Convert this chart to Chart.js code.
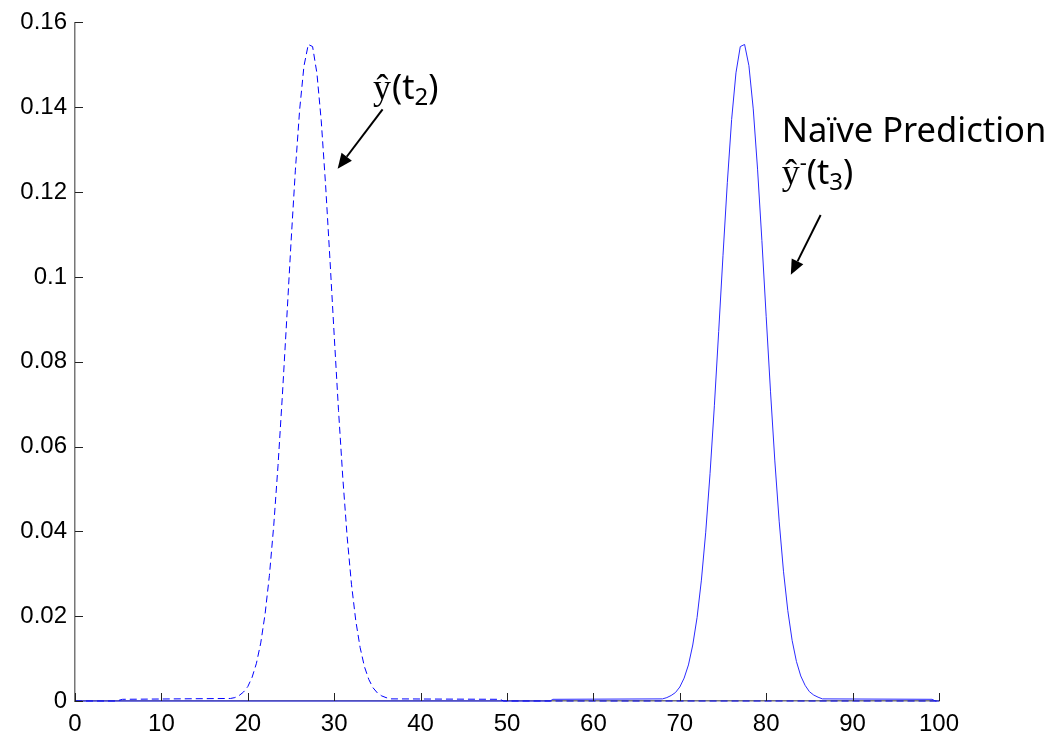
<!DOCTYPE html>
<html>
<head>
<meta charset="utf-8">
<script src="https://cdn.jsdelivr.net/npm/chart.js@4/dist/chart.umd.min.js"></script>
<style>
  html, body { margin: 0; padding: 0; background: #fff; }
  #plot { display: block; }
</style>
</head>
<body>
<canvas id="plot" width="1060" height="734"></canvas>
<script>
// estimate y(t2) – dashed curve
const xPred = [0, 4.8, 5.5,
  18, 18.5, 19, 19.5, 20, 20.5, 21, 21.5, 22, 22.5, 23, 23.5, 24, 24.5, 25, 25.5, 26, 26.5,
  27, 27.5, 28, 28.5, 29, 29.5, 30, 30.5, 31, 31.5, 32, 32.5, 33, 33.5, 34, 34.5, 35, 35.5, 36,
  36.5, 49.2, 49.6, 100];
const yPred = [0, 0, 0.0004,
  0.0006, 0.0008, 0.0013, 0.0021, 0.0034, 0.0056, 0.0089, 0.0137, 0.0205, 0.0296, 0.0413, 0.0556, 0.0720, 0.0898, 0.1080, 0.1250, 0.1394, 0.1497,
  0.1548, 0.1543, 0.1480, 0.1368, 0.1218, 0.1044, 0.0862, 0.0685, 0.0525, 0.0387, 0.0275, 0.0189, 0.0126, 0.0081, 0.0051, 0.0031, 0.0019, 0.0012, 0.0008,
  0.0005, 0.0004, 0, 0];

// naive prediction y-(t3) – solid curve
const xNaive = [0, 55, 55.3,
  68, 68.5, 69, 69.5, 70, 70.5, 71, 71.5, 72, 72.5, 73, 73.5, 74, 74.5, 75, 75.5, 76, 76.5,
  77, 77.5, 78, 78.5, 79, 79.5, 80, 80.5, 81, 81.5, 82, 82.5, 83, 83.5, 84, 84.5, 85, 85.5, 86, 86.5,
  99.2, 99.6, 100];
const yNaive = [0, 0, 0.0004,
  0.0005, 0.0008, 0.0013, 0.0020, 0.0033, 0.0054, 0.0085, 0.0132, 0.0197, 0.0285, 0.0398, 0.0536, 0.0696, 0.0871, 0.1051, 0.1222, 0.1371, 0.1481,
  0.1543, 0.1548, 0.1498, 0.1396, 0.1254, 0.1086, 0.0906, 0.0729, 0.0566, 0.0424, 0.0306, 0.0213, 0.0143, 0.0093, 0.0059, 0.0037, 0.0022, 0.0014, 0.0009, 0.0005,
  0.0004, 0, 0];

const xRange = [0, 100], xStep = 10;
const yRange = [0, 0.16], yStep = 0.02;

// annotation anchors, in data units
const note1At = [34.5, 0.142];
const arrow1 = [[35.6, 0.1395], [30.4, 0.1255]];
const note2At = [81.8, 0.1319];
const note3At = [81.8, 0.1219];
const arrow2 = [[86.3, 0.1146], [82.85, 0.1005]];

const SANS = '"Noto Sans", "Open Sans", sans-serif';
const SERIF = '"Liberation Serif", "DejaVu Serif", serif';
const TICK_FONT = '"Liberation Sans", Arial, sans-serif';

const zip = (xs, ys) => xs.map((x, i) => ({ x, y: ys[i] }));

// draws a run of text pieces with their own fonts and offsets
function drawRuns(ctx, x, y, runs) {
  runs.forEach(r => {
    ctx.font = r.font;
    ctx.fillText(r.text, x, y + (r.dy || 0));
    x += ctx.measureText(r.text).width + (r.gap || 0);
  });
}

function drawArrow(ctx, x0, y0, x1, y1) {
  const ang = Math.atan2(y1 - y0, x1 - x0), head = 15, half = 6.5;
  const bx = x1 - head * Math.cos(ang), by = y1 - head * Math.sin(ang);
  ctx.lineWidth = 2;
  ctx.beginPath();
  ctx.moveTo(x0, y0);
  ctx.lineTo(bx, by);
  ctx.stroke();
  ctx.beginPath();
  ctx.moveTo(x1, y1);
  ctx.lineTo(bx + half * Math.sin(ang), by - half * Math.cos(ang));
  ctx.lineTo(bx - half * Math.sin(ang), by + half * Math.cos(ang));
  ctx.closePath();
  ctx.fill();
}

// inward tick marks plus the text labels and arrows
const overlay = {
  id: 'overlay',
  afterDraw(chart) {
    const { ctx, scales: { x, y } } = chart;
    const px = v => x.getPixelForValue(v), py = v => y.getPixelForValue(v);
    ctx.save();
    ctx.strokeStyle = '#222';
    ctx.lineWidth = 1;
    ctx.beginPath();
    for (let v = xRange[0]; v <= xRange[1] + 1e-9; v += xStep) {
      const p = Math.round(px(v)) + 0.5;
      ctx.moveTo(p, y.bottom);
      ctx.lineTo(p, y.bottom - 8);
    }
    for (let i = 0; i * yStep <= yRange[1] + 1e-9; i++) {
      const p = Math.round(py(i * yStep)) + 0.5;
      ctx.moveTo(x.left, p);
      ctx.lineTo(x.left + 8, p);
    }
    ctx.stroke();

    ctx.fillStyle = '#000';
    ctx.strokeStyle = '#000';
    ctx.textBaseline = 'alphabetic';
    ctx.textAlign = 'left';
    drawRuns(ctx, px(note1At[0]), py(note1At[1]), [
      { text: 'ŷ', font: '36px ' + SERIF, gap: 1 },
      { text: '(t', font: '34px ' + SANS },
      { text: '2', font: '24px ' + SANS, dy: 6 },
      { text: ')', font: '34px ' + SANS }
    ]);
    drawRuns(ctx, px(note2At[0]), py(note2At[1]), [
      { text: 'Naïve Prediction', font: '34.5px ' + SANS }
    ]);
    drawRuns(ctx, px(note3At[0]), py(note3At[1]), [
      { text: 'ŷ', font: '36px ' + SERIF },
      { text: '-', font: '22px ' + SANS, dy: -14 },
      { text: '(t', font: '34px ' + SANS },
      { text: '3', font: '24px ' + SANS, dy: 6 },
      { text: ')', font: '34px ' + SANS }
    ]);
    drawArrow(ctx, px(arrow1[0][0]), py(arrow1[0][1]), px(arrow1[1][0]), py(arrow1[1][1]));
    drawArrow(ctx, px(arrow2[0][0]), py(arrow2[0][1]), px(arrow2[1][0]), py(arrow2[1][1]));
    ctx.restore();
  }
};

new Chart(document.getElementById('plot'), {
  type: 'line',
  data: {
    datasets: [
      { label: 'y(t2)', data: zip(xPred, yPred), borderColor: '#0000ff', borderWidth: 1,
        borderDash: [7, 4], pointRadius: 0, tension: 0, fill: false, clip: false },
      { label: 'Naive Prediction', data: zip(xNaive, yNaive), borderColor: '#2b2bff', borderWidth: 1,
        pointRadius: 0, tension: 0, fill: false, clip: false }
    ]
  },
  options: {
    responsive: false,
    animation: false,
    devicePixelRatio: 1,
    layout: { padding: { top: 20, right: 121, left: 0, bottom: 0 } },
    plugins: { legend: { display: false }, tooltip: { enabled: false } },
    scales: {
      x: {
        type: 'linear', min: xRange[0], max: xRange[1],
        grid: { display: false, drawTicks: false },
        border: { display: true, color: '#777777', width: 1.5 },
        ticks: { stepSize: xStep, padding: 9, color: '#000', maxRotation: 0,
                 font: { family: TICK_FONT, size: 24 } },
        afterFit(s) { s.height = 33; }
      },
      y: {
        type: 'linear', min: yRange[0], max: yRange[1],
        grid: { display: false, drawTicks: false },
        border: { display: true, color: '#777777', width: 1.5 },
        ticks: { stepSize: yStep, padding: 8, color: '#000',
                 font: { family: TICK_FONT, size: 24 },
                 callback: v => String(+v.toFixed(2)) },
        afterFit(s) { s.width = 75; }
      }
    }
  },
  plugins: [overlay]
});
</script>
</body>
</html>
